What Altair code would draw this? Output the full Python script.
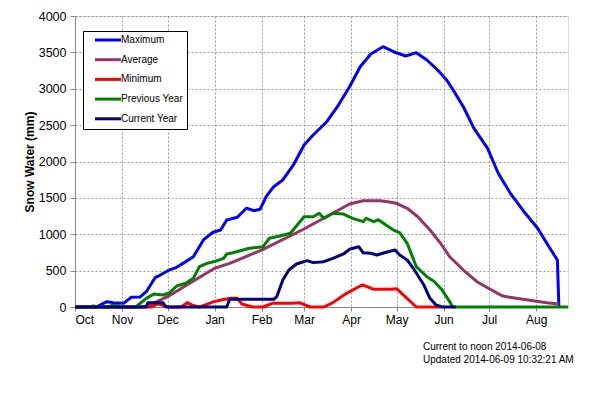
import altair as alt
import pandas as pd

# Day of water year (0 = Oct 1) and snow water (mm)
max_days = [0, 14, 21, 25, 32, 37, 43, 47, 53, 56, 62, 67, 72, 78, 85, 91, 96, 100, 107, 113, 118, 122, 126, 131, 137, 144, 151, 157, 166, 173, 181, 188, 195, 203, 210, 218, 225, 232, 239, 245, 250, 256, 263, 272, 279, 287, 296, 305, 311, 318, 319]
max_vals = [0, 0, 73, 60, 50, 133, 138, 210, 408, 436, 508, 545, 610, 691, 930, 1027, 1058, 1196, 1233, 1357, 1324, 1343, 1516, 1654, 1746, 1952, 2227, 2364, 2547, 2753, 3028, 3303, 3478, 3578, 3509, 3450, 3496, 3395, 3258, 3120, 2960, 2753, 2456, 2181, 1838, 1563, 1310, 1082, 876, 646, 0]

avg_days = [0, 43, 48, 61, 92, 102, 123, 151, 181, 190, 201, 206, 212, 219, 226, 234, 241, 247, 256, 265, 274, 282, 291, 302, 311, 319]
avg_vals = [0, 0, 15, 142, 532, 600, 783, 1072, 1416, 1461, 1461, 1448, 1425, 1357, 1241, 1058, 876, 691, 508, 348, 240, 150, 119, 87, 59, 41]

min_days = [0, 50, 55, 59, 62, 70, 74, 78, 82, 86, 91, 97, 103, 107, 110, 117, 124, 130, 143, 148, 155, 164, 170, 179, 188, 190, 197, 201, 208, 212, 225, 241]
min_vals = [0, 0, 45, 10, 0, 0, 60, 20, 0, 30, 70, 100, 119, 119, 41, 0, 0, 50, 50, 60, 0, 0, 60, 188, 289, 302, 243, 243, 243, 252, 0, 0]

prev_days = [0, 10, 12, 15, 22, 24, 28, 31, 40, 47, 52, 58, 62, 67, 73, 78, 82, 87, 93, 98, 100, 104, 115, 124, 128, 135, 142, 151, 157, 161, 164, 170, 177, 183, 190, 192, 197, 200, 205, 210, 214, 219, 225, 232, 237, 242, 247, 249, 325]
prev_vals = [0, 0, 15, 0, 0, 20, 20, 0, 0, 119, 179, 165, 192, 289, 326, 394, 554, 600, 632, 669, 729, 746, 807, 829, 944, 976, 1013, 1241, 1241, 1288, 1219, 1288, 1278, 1219, 1173, 1219, 1173, 1200, 1127, 1058, 1021, 876, 554, 416, 348, 234, 73, 0, 0]

cur_days = [0, 47, 48, 58, 60, 100, 102, 131, 133, 137, 141, 146, 153, 157, 164, 170, 177, 181, 187, 190, 195, 199, 204, 211, 214, 219, 223, 230, 234, 238, 242, 251]
cur_vals = [0, 0, 60, 60, 0, 0, 106, 106, 142, 371, 508, 591, 637, 610, 623, 669, 729, 793, 829, 746, 738, 715, 746, 783, 715, 646, 532, 302, 119, 27, 0, 0]

series_names = ["Maximum", "Average", "Minimum", "Previous Year", "Current Year"]
series_colors = ["#0000FF", "#993366", "#FF0000", "#008000", "#000080"]
month_days = [0, 31, 61, 92, 123, 151, 182, 212, 243, 273, 304]
month_labels = ["Oct", "Nov", "Dec", "Jan", "Feb", "Mar", "Apr", "May", "Jun", "Jul", "Aug"]
y_ticks = [0, 500, 1000, 1500, 2000, 2500, 3000, 3500, 4000]

rows = []
for name, ds, vs in zip(series_names,
                        [max_days, avg_days, min_days, prev_days, cur_days],
                        [max_vals, avg_vals, min_vals, prev_vals, cur_vals]):
    for d, v in zip(ds, vs):
        rows.append({"series": name, "day": d, "swe": v})
df = pd.DataFrame(rows)

label_expr = ("[" + ",".join("'%s'" % m for m in month_labels) + "][indexof(["
              + ",".join(str(d) for d in month_days) + "], datum.value)]")

FONT = "Liberation Sans"
GRID = dict(grid=True, gridColor="#9a9a9a", gridDash=[2, 2], gridWidth=1, gridOpacity=1)
NBSP = "\u00a0" * 4

x_enc = alt.X("day:Q", scale=alt.Scale(domain=[0, 325], nice=False, zero=False),
              axis=alt.Axis(values=month_days, labelExpr=label_expr, title=None,
                            tickSize=4, labelPadding=3,
                            labelFontSize=12, labelColor="black", **GRID))
y_enc = alt.Y("swe:Q", scale=alt.Scale(domain=[0, 4000], nice=False),
              axis=alt.Axis(values=y_ticks, format="d", title="Snow Water (mm)",
                            tickSize=5, labelPadding=4, labelFontSize=12.5,
                            labelColor="black", titleFontSize=12,
                            titleFontWeight="bold", titlePadding=2,
                            titleColor="black", **GRID))
color_enc = alt.Color("series:N",
                      scale=alt.Scale(domain=series_names, range=series_colors),
                      sort=series_names,
                      legend=alt.Legend(title=None, orient="none", legendX=8, legendY=15,
                                        symbolType="M1,0H9.667", symbolStrokeWidth=3,
                                        symbolSize=36, labelFontSize=10,
                                        labelColor="black", labelOffset=24,
                                        labelExpr="datum.label + '" + NBSP + "'",
                                        rowPadding=7.7, padding=4,
                                        strokeColor="black", fillColor="white",
                                        labelFont=FONT))

layers = []
for name in series_names:
    layers.append(
        alt.Chart(df).transform_filter(alt.datum.series == name)
        .mark_line(strokeWidth=3, strokeJoin="round")
        .encode(x=x_enc, y=y_enc, color=color_enc)
    )

chart = alt.layer(*layers).properties(
    width=493, height=291,
    autosize=alt.AutoSizeParams(type="none"),
    padding={"left": 67, "top": 8, "right": 18, "bottom": 70},
    title=alt.TitleParams(["Current to noon 2014-06-08", "Updated 2014-06-09 10:32:21 AM"],
                          orient="bottom", anchor="start", align="left", frame="group",
                          dx=348, offset=17, fontSize=10, fontWeight="normal", font=FONT,
                          color="black", lineHeight=12.5),
).configure_view(stroke="black", strokeWidth=1).configure_axis(
    domainColor="black", tickColor="black", labelFont=FONT, titleFont=FONT
).configure(background="white")

chart.save("out.html", embed_options={"renderer": "svg", "actions": False})
